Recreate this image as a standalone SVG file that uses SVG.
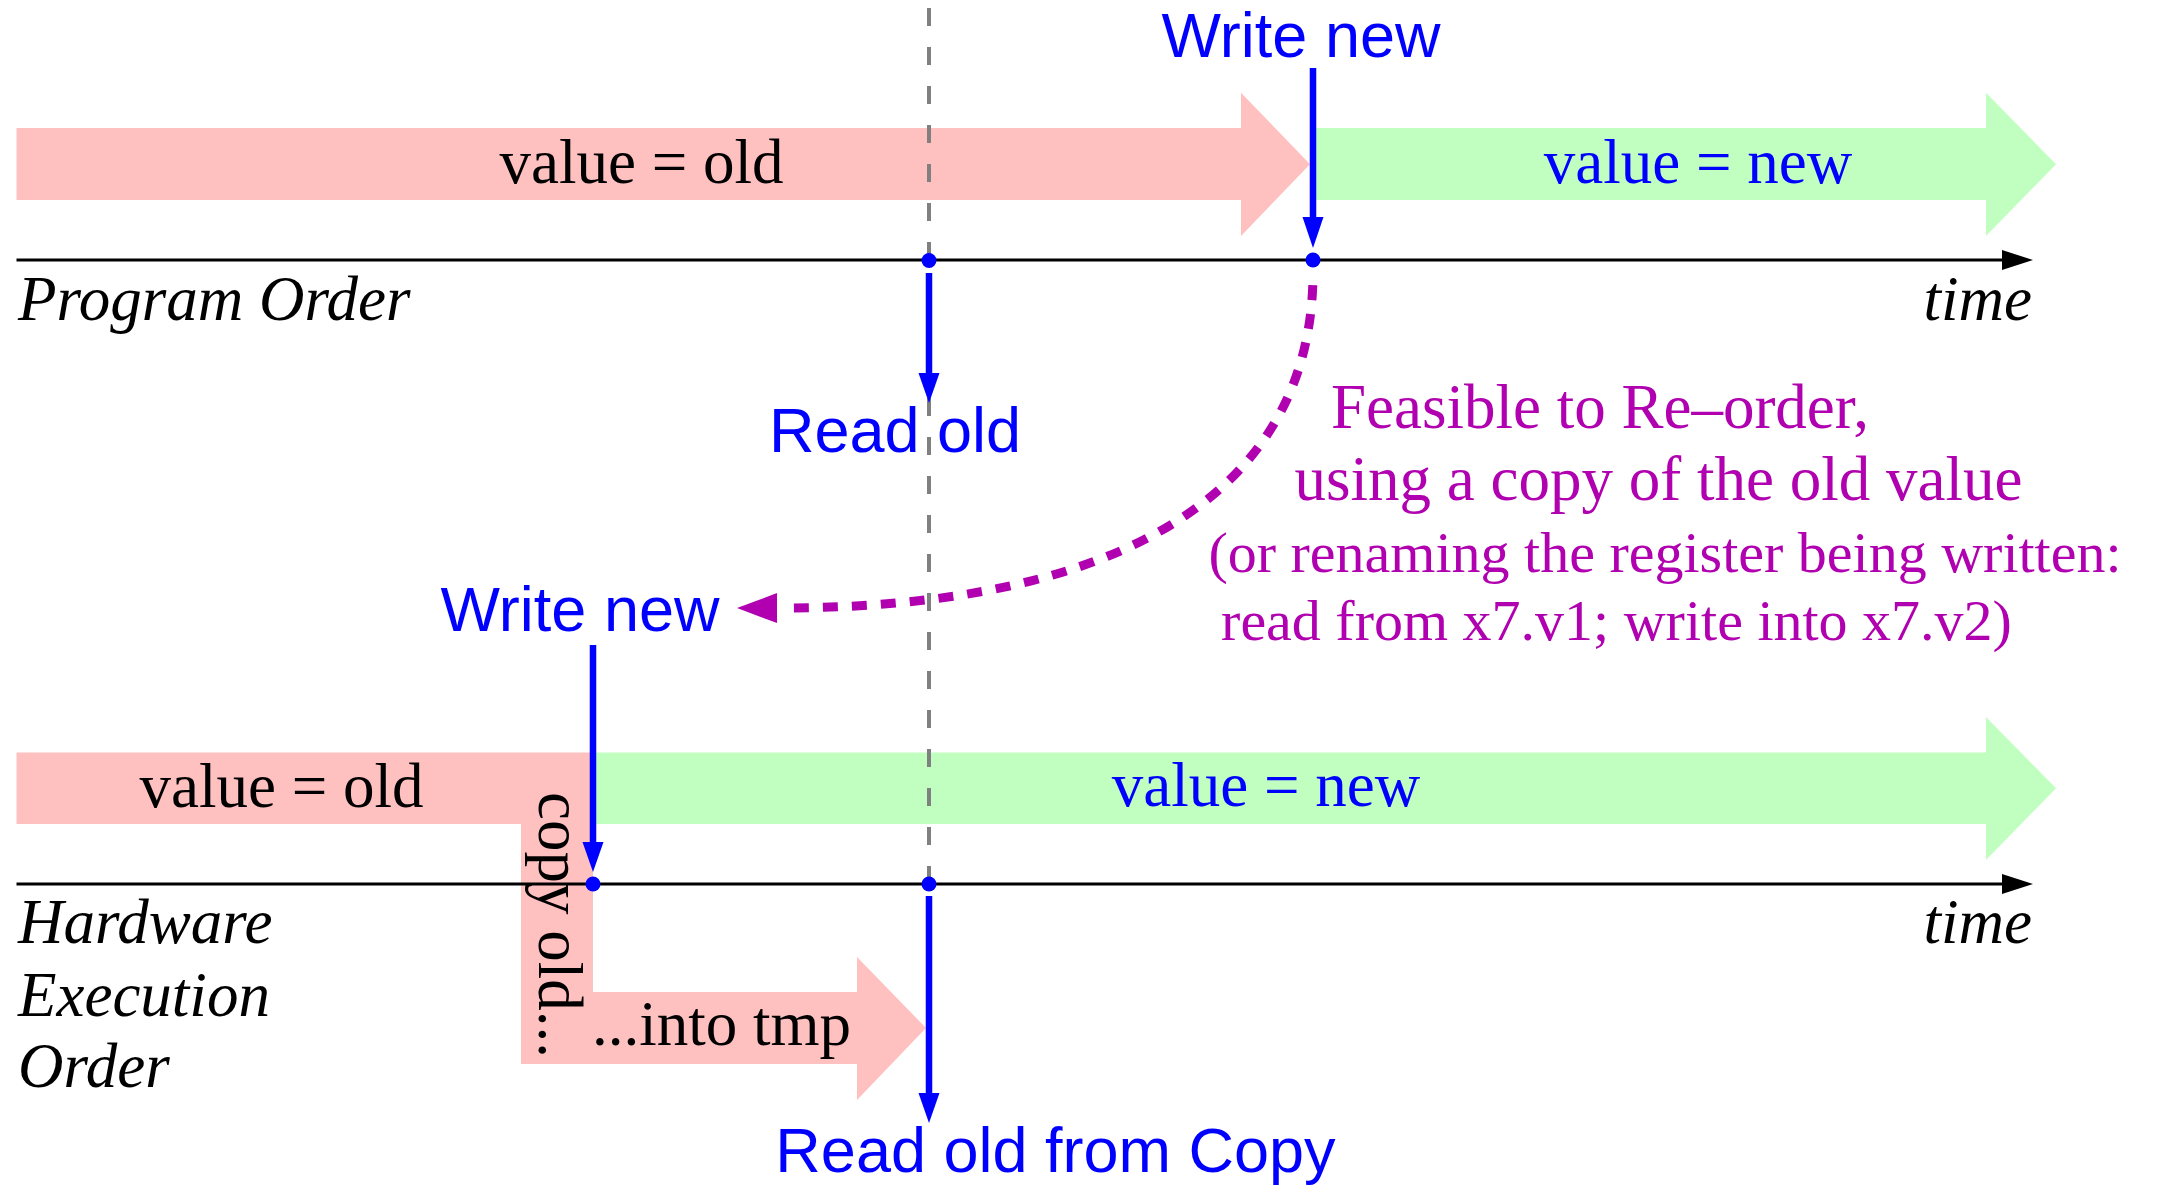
<svg xmlns="http://www.w3.org/2000/svg" width="2158" height="1185" viewBox="0 0 2158 1185">
  <style>
    .old { fill: #ffc0c0; }
    .new { fill: #c0ffc0; }
    .serif { font-family: "Liberation Serif", "Times New Roman", serif; font-size: 63px; }
    .sans { font-family: "Liberation Sans", Arial, sans-serif; font-size: 63px; fill: #0000ff; }
    .ital { font-style: italic; fill: #000000; }
    .blue { fill: #0000ff; }
    .note { fill: #b000b0; text-anchor: middle; }
    .axis { stroke: #000000; stroke-width: 3; fill: none; }
    .event { stroke: #0000ff; stroke-width: 6.5; fill: none; }
    .dot { fill: #0000ff; }
    .head { fill: #0000ff; }
    .guide { stroke: #808080; stroke-width: 4; stroke-dasharray: 18 21; fill: none; }
    .mid { text-anchor: middle; }
  </style>

  <!-- Program order: value state bands -->
  <g id="prog-old">
    <path class="old" d="M16.5,128 H1241 V92.7 L1310,164.3 L1241,236 V200 H16.5 Z"/>
    <text class="serif mid" x="641.5" y="183">value = old</text>
  </g>
  <g id="prog-new">
    <path class="new" d="M1313,128 H1986 V92.7 L2056,164.3 L1986,236 V200 H1313 Z"/>
    <text class="serif blue mid" x="1698" y="183">value = new</text>
  </g>

  <!-- Hardware execution order: value state bands -->
  <g id="hw-new">
    <path class="new" d="M593,752.5 H1986 V717 L2056,788.3 L1986,860 V824 H593 Z"/>
    <text class="serif blue mid" x="1266" y="806">value = new</text>
  </g>
  <g id="hw-old">
    <path class="old" d="M16.5,752.5 H593 V992 H857 V957 L926,1028 L857,1100 V1064 H521 V824 H16.5 Z"/>
    <text class="serif mid" x="281.5" y="807">value = old</text>
    <text class="serif" transform="translate(539,792) rotate(90)">copy old...</text>
    <text class="serif" x="592" y="1045">...into tmp</text>
  </g>

  <!-- vertical guide marking the read instant -->
  <g id="guide">
    <line class="guide" x1="929" y1="8" x2="929" y2="884"/>
  </g>

  <!-- time axes -->
  <g id="axis-program">
    <line class="axis" x1="16.5" y1="260" x2="2005" y2="260"/>
    <polygon fill="#000000" points="2002,250 2033,260 2002,270"/>
    <text class="serif ital" x="18" y="320">Program Order</text>
    <text class="serif ital" x="2032" y="320" text-anchor="end">time</text>
  </g>
  <g id="axis-hardware">
    <line class="axis" x1="16.5" y1="884" x2="2005" y2="884"/>
    <polygon fill="#000000" points="2002,874 2033,884 2002,894"/>
    <text class="serif ital" x="18" y="943">Hardware</text>
    <text class="serif ital" x="18" y="1016">Execution</text>
    <text class="serif ital" x="18" y="1087">Order</text>
    <text class="serif ital" x="2032" y="943" text-anchor="end">time</text>
  </g>

  <!-- events -->
  <g id="prog-write">
    <text class="sans mid" x="1301" y="57">Write new</text>
    <line class="event" x1="1313" y1="68" x2="1313" y2="220"/>
    <polygon class="head" points="1302.5,217 1323.5,217 1313,248"/>
    <circle class="dot" cx="1313" cy="260" r="7.5"/>
  </g>
  <g id="prog-read">
    <circle class="dot" cx="929" cy="260.5" r="7.5"/>
    <line class="event" x1="929" y1="273" x2="929" y2="376"/>
    <polygon class="head" points="918.5,373 939.5,373 929,403"/>
    <text class="sans mid" x="895" y="452">Read old</text>
  </g>
  <g id="hw-write">
    <text class="sans mid" x="580" y="631">Write new</text>
    <line class="event" x1="593" y1="645" x2="593" y2="845"/>
    <polygon class="head" points="582.5,842 603.5,842 593,872"/>
    <circle class="dot" cx="593" cy="884" r="7.5"/>
  </g>
  <g id="hw-read">
    <circle class="dot" cx="929" cy="884" r="7.5"/>
    <line class="event" x1="929" y1="896" x2="929" y2="1096"/>
    <polygon class="head" points="918.5,1093 939.5,1093 929,1123"/>
    <text class="sans mid" x="1055.5" y="1172">Read old from Copy</text>
  </g>

  <!-- re-ordering note -->
  <g id="note">
    <text class="serif note" x="1600" y="428">Feasible to Re–order,</text>
    <text class="serif note" x="1658.5" y="500">using a copy of the old value</text>
    <text class="serif note" x="1665" y="572" style="font-size:58px">(or renaming the register being written:</text>
    <text class="serif note" x="1616.5" y="640" style="font-size:58px">read from x7.v1; write into x7.v2)</text>
  </g>

  <!-- connectors -->
  <g id="connectors">
    <path d="M1313,272 C1313,490 1125,608 780,608" fill="none" stroke="#b000b0" stroke-width="9" stroke-dasharray="15 14" stroke-dashoffset="16"/>
    <polygon fill="#b000b0" points="777,593 737,608 777,623"/>
  </g>
</svg>
